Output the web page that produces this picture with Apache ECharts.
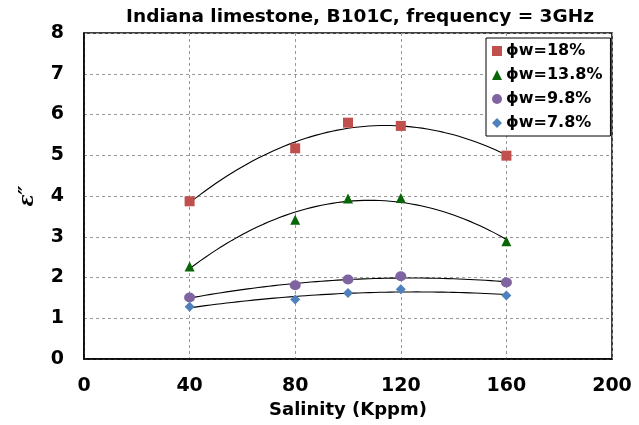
<!DOCTYPE html>
<html>
<head>
<meta charset="utf-8">
<script src="https://cdn.jsdelivr.net/npm/echarts@6/dist/echarts.min.js"></script>
<style>
  html, body { margin: 0; padding: 0; background: #fff; }
  #chart { width: 639px; height: 425px; }
</style>
</head>
<body>
<div id="chart"></div>
<script>
// Salinity (Kppm) at which each sample was measured
const salinity = [40, 80, 100, 120, 160];

// Imaginary permittivity for each water saturation level
const eps18 = [3.87, 5.17, 5.80, 5.72, 4.99];
const eps138 = [2.27, 3.42, 3.94, 3.95, 2.89];
const eps98 = [1.51, 1.81, 1.95, 2.03, 1.88];
const eps78 = [1.28, 1.46, 1.62, 1.71, 1.56];

const seriesNames = ['\u03d5w=18%', '\u03d5w=13.8%', '\u03d5w=9.8%', '\u03d5w=7.8%'];
const xTicks = [0, 40, 80, 120, 160, 200];
const yTicks = [0, 1, 2, 3, 4, 5, 6, 7, 8];

// Second-order least-squares trendline through (x, y)
function quadFit(xs, ys) {
  let s = [0, 0, 0, 0, 0], t = [0, 0, 0];
  for (let i = 0; i < xs.length; i++) {
    let p = 1;
    for (let k = 0; k < 5; k++) { s[k] += p; if (k < 3) t[k] += p * ys[i]; p *= xs[i]; }
  }
  // Solve the 3x3 normal equations by Cramer's rule
  const M = [[s[0], s[1], s[2]], [s[1], s[2], s[3]], [s[2], s[3], s[4]]];
  const det = m => m[0][0] * (m[1][1] * m[2][2] - m[1][2] * m[2][1])
    - m[0][1] * (m[1][0] * m[2][2] - m[1][2] * m[2][0])
    + m[0][2] * (m[1][0] * m[2][1] - m[1][1] * m[2][0]);
  const D = det(M);
  const coef = [0, 1, 2].map(c => {
    const m = M.map((row, r) => row.map((v, j) => (j === c ? t[r] : v)));
    return det(m) / D;
  });
  const pts = [];
  const x0 = xs[0], x1 = xs[xs.length - 1];
  for (let i = 0; i <= 60; i++) {
    const x = x0 + (x1 - x0) * i / 60;
    pts.push([x, coef[0] + coef[1] * x + coef[2] * x * x]);
  }
  return pts;
}

const groups = [
  { name: seriesNames[0], vals: eps18, symbol: 'rect', size: [10, 10], color: '#C0504D' },
  { name: seriesNames[1], vals: eps138, symbol: 'triangle', size: [10, 10], color: '#086608' },
  { name: seriesNames[2], vals: eps98, symbol: 'circle', size: [11, 10], color: '#8064A2' },
  { name: seriesNames[3], vals: eps78, symbol: 'diamond', size: [10, 10], color: '#4F81BD' }
];

const series = [];
groups.forEach(g => {
  series.push({
    name: g.name + ' fit',
    type: 'line',
    data: quadFit(salinity, g.vals),
    showSymbol: false,
    silent: true,
    lineStyle: { color: '#000', width: 1.1 },
    z: 2
  });
});
groups.forEach(g => {
  series.push({
    name: g.name,
    type: 'scatter',
    data: salinity.map((x, i) => [x, g.vals[i]]),
    symbol: g.symbol,
    symbolSize: g.size,
    itemStyle: { color: g.color, opacity: 1 },
    z: 3
  });
});

const chart = echarts.init(document.getElementById('chart'), null, { renderer: 'canvas' });
const boldFont = { fontFamily: 'DejaVu Sans, sans-serif', fontWeight: 'bold', color: '#000' };

chart.setOption({
  animation: false,
  backgroundColor: '#fff',
  title: {
    text: 'Indiana limestone, B101C, frequency = 3GHz',
    left: 355, top: 3, textAlign: 'center',
    textStyle: Object.assign({ fontSize: 18.5 }, boldFont)
  },
  grid: { left: 84, right: 27, top: 33, bottom: 66, show: true, borderColor: '#000', borderWidth: 1.5, backgroundColor: 'transparent' },
  legend: {
    data: seriesNames,
    orient: 'vertical',
    left: 486, top: 38,
    padding: [5, 8, 5, 6],
    itemGap: 8,
    itemWidth: 10, itemHeight: 10,
    backgroundColor: '#fff',
    borderColor: '#000', borderWidth: 1,
    textStyle: Object.assign({ fontSize: 16, padding: [0, 0, 0, -1] }, boldFont)
  },
  xAxis: {
    type: 'value', min: xTicks[0], max: xTicks[xTicks.length - 1], interval: 40,
    name: 'Salinity (Kppm)', nameLocation: 'middle', nameGap: 42,
    nameTextStyle: Object.assign({ fontSize: 18 }, boldFont),
    axisLine: { show: true, lineStyle: { color: '#000', width: 1.5 } },
    axisTick: { show: false },
    axisLabel: Object.assign({ fontSize: 19, margin: 18 }, boldFont),
    splitLine: { show: true, lineStyle: { color: '#999', type: [3, 3], width: 1 } }
  },
  yAxis: {
    type: 'value', min: yTicks[0], max: yTicks[yTicks.length - 1], interval: 1,
    name: '\u03b5\u2033', nameLocation: 'middle', nameGap: 46, nameRotate: 90,
    nameTextStyle: { fontFamily: 'DejaVu Serif, serif', fontStyle: 'italic', fontWeight: 'bold', fontSize: 20, color: '#000' },
    axisLine: { show: true, lineStyle: { color: '#000', width: 1.5 } },
    axisTick: { show: false },
    axisLabel: Object.assign({ fontSize: 19, margin: 20 }, boldFont),
    splitLine: { show: true, lineStyle: { color: '#999', type: [3, 3], width: 1 } }
  },
  series: series
});
</script>
</body>
</html>
